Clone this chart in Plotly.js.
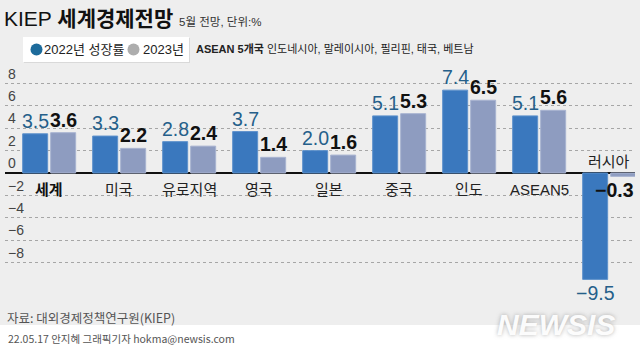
<!DOCTYPE html>
<html>
<head>
<meta charset="utf-8">
<script src="https://cdn.plot.ly/plotly-3.0.1.min.js"></script>
<style>
html,body{margin:0;padding:0;background:#eeeeee;}
#chart{width:640px;height:353px;}
</style>
</head>
<body>
<div id="chart"></div>
<script>
// ---- data ----
const categories = ['세계','미국','유로지역','영국','일본','중국','인도','ASEAN5','러시아'];
const growth2022 = [3.5, 3.3, 2.8, 3.7, 2.0, 5.1, 7.4, 5.1, -9.5];
const growth2023 = [3.6, 2.2, 2.4, 1.4, 1.6, 5.3, 6.5, 5.6, -0.3];
const yTickVals = [-8, -6, -4, -2, 0, 2, 4, 6, 8];
const seriesNames = ['2022년 성장률', '2023년'];

// ---- layout helpers (pixel -> paper) ----
const W = 640, H = 353;
const M = {l: 5, r: 5, t: 58, b: 38};
const PW = W - M.l - M.r, PH = H - M.t - M.b;
const px = x => (x - M.l) / PW;
const py = y => (H - M.b - y) / PH;

const fmt = v => v.toFixed(1).replace('-', '\u2212');
const LAT = 'Liberation Sans, Arial, sans-serif';
const KR = 'Noto Sans CJK KR, sans-serif';
const MIX = 'Liberation Sans, Noto Sans CJK KR, sans-serif';

const traces = [
  {
    type: 'bar', name: seriesNames[0], x: categories, y: growth2022,
    marker: {color: '#3a78be', line: {color: '#5f92cc', width: 1}},
    showlegend: false, hoverinfo: 'skip'
  },
  {
    type: 'bar', name: seriesNames[1], x: categories, y: growth2023,
    marker: {color: '#8e9cc0', line: {color: '#a8b3d0', width: 1}},
    showlegend: false, hoverinfo: 'skip'
  }
];

const annotations = [];
// value labels (from data)
const seriesVals = [growth2022, growth2023];
const labelFonts = [
  {family: LAT, size: 19.5, color: '#255f8a'},
  {family: LAT, size: 19.5, color: '#111111', weight: 'bold'}
];
seriesVals.forEach((vals, s) => {
  vals.forEach((v, i) => {
    const neg = v < 0;
    const edge = (s === 1 && i === vals.length - 1);
    annotations.push({
      x: categories[i], y: v, xref: 'x', yref: 'y', showarrow: false,
      text: fmt(v),
      xanchor: edge ? 'right' : 'center',
      xshift: edge ? 27 : (s === 0 ? -14 : 14),
      yanchor: neg ? 'top' : 'bottom', yshift: neg ? -1 : 0,
      font: labelFonts[s]
    });
  });
});
// category labels
categories.forEach((c, i) => {
  const neg = growth2022[i] < 0;
  annotations.push({
    x: c, y: 0, xref: 'x', yref: 'y', showarrow: false,
    text: i === 0 ? '<b>' + c + '</b>' : c,
    yanchor: neg ? 'bottom' : 'top', yshift: neg ? 1 : -6,
    font: {family: MIX, size: 15, color: i === 0 ? '#111' : '#222'}
  });
});
// legend texts
annotations.push({x: px(42), y: py(49.5), xref: 'paper', yref: 'paper', xanchor: 'left', yanchor: 'middle', showarrow: false,
  text: seriesNames[0], font: {family: MIX, size: 13, color: '#222'}});
annotations.push({x: px(141), y: py(49.5), xref: 'paper', yref: 'paper', xanchor: 'left', yanchor: 'middle', showarrow: false,
  text: seriesNames[1], font: {family: MIX, size: 13, color: '#222'}});
annotations.push({x: px(194), y: py(49.5), xref: 'paper', yref: 'paper', xanchor: 'left', yanchor: 'middle', showarrow: false,
  text: '<b>ASEAN 5개국</b> 인도네시아, 말레이시아, 필리핀, 태국, 베트남', font: {family: MIX, size: 11, color: '#222'}});
// source & credit
annotations.push({x: px(5), y: py(317), xref: 'paper', yref: 'paper', xanchor: 'left', yanchor: 'middle', showarrow: false,
  text: '자료: 대외경제정책연구원(KIEP)', font: {family: KR, size: 12.5, color: '#555'}});
annotations.push({x: px(6), y: py(338), xref: 'paper', yref: 'paper', xanchor: 'left', yanchor: 'middle', showarrow: false,
  text: '22.05.17 안지혜 그래픽기자 hokma@newsis.com', font: {family: KR, size: 10.5, color: '#555'}});
// watermark
annotations.push({x: px(556), y: py(324), xref: 'paper', yref: 'paper', xanchor: 'center', yanchor: 'middle', showarrow: false,
  text: '<b><i>NEWSIS</i></b>', font: {family: LAT, size: 30, color: 'rgba(255,255,255,0.95)', shadow: '0px 0px 4px rgba(120,120,120,0.6)'}});

const shapes = [
  // white footer strip
  {type: 'rect', xref: 'paper', yref: 'paper', x0: px(0), x1: px(640), y0: py(325), y1: py(353),
   fillcolor: '#ffffff', line: {width: 0}, layer: 'below'},
  // legend box shadow + box
  {type: 'rect', xref: 'paper', yref: 'paper', x0: px(24), x1: px(190), y0: py(38), y1: py(63),
   fillcolor: '#d9d9d9', line: {width: 0}, layer: 'below'},
  {type: 'rect', xref: 'paper', yref: 'paper', x0: px(23), x1: px(189), y0: py(37), y1: py(62),
   fillcolor: '#ffffff', line: {width: 0}, layer: 'below'},
  // legend dots
  {type: 'circle', xref: 'paper', yref: 'paper', x0: px(30.5), x1: px(42.5), y0: py(43.5), y1: py(55.5),
   fillcolor: '#1d6b9b', line: {width: 0}},
  {type: 'circle', xref: 'paper', yref: 'paper', x0: px(127.5), x1: px(139.5), y0: py(43.5), y1: py(55.5),
   fillcolor: '#adadad', line: {width: 0}}
];

const layout = {
  width: W, height: H,
  margin: M,
  paper_bgcolor: '#eeeeee', plot_bgcolor: 'rgba(0,0,0,0)',
  title: {
    text: 'KIEP <b>세계경제전망</b> <span style="font-size:11.5px;color:#333">5월 전망, 단위:%</span>',
    x: 4 / W, xanchor: 'left', xref: 'container',
    y: 1 - 19 / H, yanchor: 'middle', yref: 'container',
    font: {family: MIX, size: 21, color: '#111'}
  },
  barmode: 'group', bargap: 0.2, bargroupgap: 0.107,
  showlegend: false,
  xaxis: {
    type: 'category', range: [-0.631, 8.369], showticklabels: false,
    showgrid: false, zeroline: false, showline: false, fixedrange: true
  },
  yaxis: {
    range: [-12.68, 10.27], tickvals: yTickVals,
    ticktext: yTickVals.map(v => String(v).replace('-', '\u2212')),
    ticklabelposition: 'inside top', ticks: '',
    tickfont: {family: LAT, size: 14, color: '#444'},
    showgrid: true, gridcolor: '#a6a6a6', griddash: 'dot', gridwidth: 1,
    zeroline: true, zerolinecolor: '#111', zerolinewidth: 1.5,
    showline: false, fixedrange: true
  },
  annotations: annotations,
  shapes: shapes,
  font: {family: KR}
};

Plotly.newPlot('chart', traces, layout, {displayModeBar: false, staticPlot: true});
</script>
</body>
</html>
